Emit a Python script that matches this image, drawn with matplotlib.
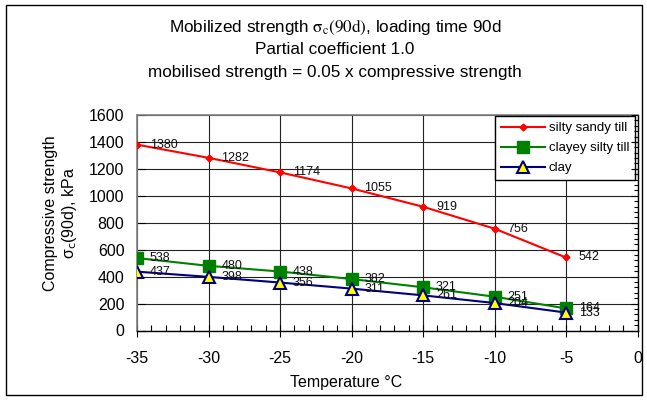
import matplotlib
matplotlib.use("Agg")
import matplotlib.pyplot as plt
from matplotlib.patches import Rectangle
from matplotlib.ticker import MultipleLocator

plt.rcParams['font.family'] = ['Liberation Sans', 'DejaVu Sans']

temperature = [-35, -30, -25, -20, -15, -10, -5]
silty_sandy_till = [1380, 1282, 1174, 1055, 919, 756, 542]
clayey_silty_till = [538, 480, 438, 382, 321, 251, 164]
clay = [437, 398, 356, 311, 261, 204, 133]
x_ticks = [-35, -30, -25, -20, -15, -10, -5, 0]
y_ticks = [0, 200, 400, 600, 800, 1000, 1200, 1400, 1600]

W, H = 647, 400
fig = plt.figure(figsize=(W / 100, H / 100), dpi=100)
fig.patch.set_facecolor('white')
fig.patches.append(Rectangle((6 / W, 5 / H), 636 / W, 390 / H, transform=fig.transFigure,
                             fill=False, edgecolor='black', linewidth=1.0))

ax = fig.add_axes([137 / W, 1 - 330.5 / H, 500.5 / W, 215.5 / H])
ax.set_xlim(-35, 0)
ax.set_ylim(0, 1600)

ax.grid(True, which='major', color='#222222', linewidth=0.8)
ax.set_axisbelow(True)

ax.plot(temperature, silty_sandy_till, color='#ff0000', linewidth=1.5, marker='D',
        markersize=3.5, markerfacecolor='#ff0000', markeredgecolor='#ff0000',
        label='silty sandy till', zorder=3)
ax.plot(temperature, clayey_silty_till, color='#008000', linewidth=1.5, marker='s',
        markersize=8, markerfacecolor='#008000', markeredgecolor='#008000',
        label='clayey silty till', zorder=3)
ax.plot(temperature, clay, color='#000080', linewidth=1.5, marker='^',
        markersize=8, markerfacecolor='#ffff00', markeredgecolor='#000080',
        markeredgewidth=1.5, label='clay', zorder=4)

for series in (silty_sandy_till, clayey_silty_till, clay):
    for xv, yv in zip(temperature, series):
        ax.annotate(str(yv), (xv, yv), xytext=(13, 0), textcoords='offset pixels',
                    ha='left', va='center', fontsize=9, color='#111111', zorder=5)

ax.set_xticks(x_ticks)
ax.set_xticklabels([str(v) for v in x_ticks])
ax.set_yticks(y_ticks)
ax.set_yticklabels([str(v) for v in y_ticks])
ax.xaxis.set_minor_locator(MultipleLocator(1))
ax.tick_params(axis='x', which='major', direction='inout', length=8, width=0.8,
               labelsize=11.5, pad=11)
ax.tick_params(axis='x', which='minor', direction='in', length=4, width=0.8)
ax.tick_params(axis='y', which='major', direction='in', length=6, width=0.8,
               labelsize=11.5, pad=9)

for side in ('left', 'top'):
    ax.spines[side].set_color('#808080')
    ax.spines[side].set_linewidth(1.2)
for side in ('bottom', 'right'):
    ax.spines[side].set_color('black')
    ax.spines[side].set_linewidth(1.0)

ax2 = ax.twinx()
ax2.set_ylim(0, 1600)
ax2.yaxis.set_major_locator(MultipleLocator(200))
ax2.yaxis.set_minor_locator(MultipleLocator(40))
ax2.tick_params(axis='y', which='major', direction='in', length=5, width=0.8, labelright=False)
ax2.tick_params(axis='y', which='minor', direction='in', length=3, width=0.8)
for s in ax2.spines.values():
    s.set_visible(False)

ax.set_xlabel('Temperature °C', fontsize=11.5)
ax.xaxis.set_label_coords((346 - 137) / 500.5, -(382 - 330.5) / 215.5)
ax.xaxis.label.set_va('center')
ax.set_ylabel('Compressive strength\nσ$_{\\mathrm{c}}$(90d), kPa', fontsize=11.5,
              linespacing=1.1, math_fontfamily='dejavusans')
ax.yaxis.set_label_coords((61 - 137) / 500.5, (330.5 - 213) / 215.5)
ax.yaxis.label.set_va('center')

leg = ax.legend(loc='upper right', bbox_to_anchor=((635 - 137) / 500.5, (330.5 - 116) / 215.5),
                borderaxespad=0, fontsize=9.5, handlelength=3.3, fancybox=False,
                edgecolor='black', framealpha=1, borderpad=0.45, labelspacing=0.6,
                handletextpad=0.3)
leg.get_frame().set_linewidth(1.0)
leg.set_zorder(10)

fig.text(335 / W, 1 - 27 / H, 'Mobilized strength $\\mathrm{\\sigma_{c}(90d)}$, loading time 90d',
         ha='center', va='center', fontsize=12.3, math_fontfamily='stix')
fig.text(335 / W, 1 - 50 / H, 'Partial coefficient 1.0', ha='center', va='center', fontsize=12.3)
fig.text(335 / W, 1 - 73 / H, 'mobilised strength = 0.05 x compressive strength',
         ha='center', va='center', fontsize=12.3)

fig.savefig('out.png', dpi=100, facecolor='white')
